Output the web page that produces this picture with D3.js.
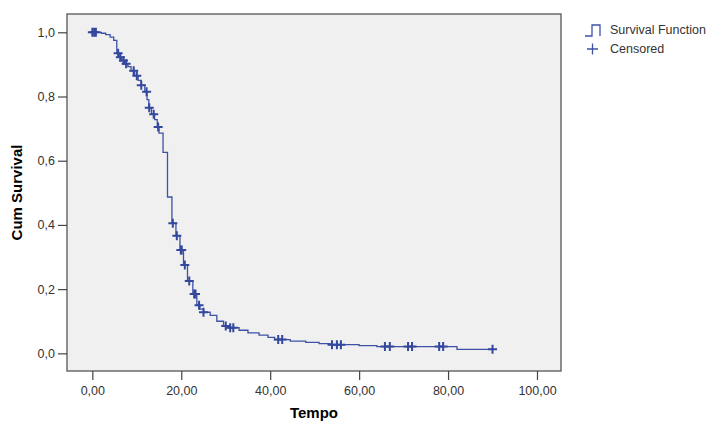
<!DOCTYPE html>
<html>
<head>
<meta charset="utf-8">
<script src="https://cdn.jsdelivr.net/npm/d3@7"></script>
<style>
  body { margin: 0; background: #fff; overflow: hidden; }
  text { font-family: "Liberation Sans", Arial, sans-serif; }
</style>
</head>
<body>
<div id="chart-area"></div>
<script>
// event times and survival after each step
var eventTimes = [2.0, 3.0, 4.0, 4.8, 5.5, 6.0, 6.6, 7.2, 8.0, 8.7, 9.5, 10.3, 11.0, 11.8, 12.3, 12.7,
  13.3, 14.0, 14.6, 15.0, 15.9, 16.9, 17.9, 18.8, 19.7, 20.5, 21.4, 22.6, 23.5, 24.2, 25.0,
  26.5, 28.0, 29.5, 30.5, 33.0, 35.0, 37.5, 39.5, 41.0, 44.5, 48.0, 51.0, 53.5, 60.0, 64.0, 82.0];
var survival = [0.997, 0.993, 0.985, 0.975, 0.935, 0.922, 0.912, 0.902, 0.893, 0.880, 0.865, 0.850, 0.835, 0.815, 0.790, 0.765,
  0.745, 0.728, 0.705, 0.686, 0.626, 0.487, 0.405, 0.366, 0.322, 0.275, 0.225, 0.185, 0.150, 0.138, 0.128,
  0.118, 0.100, 0.085, 0.080, 0.072, 0.064, 0.057, 0.050, 0.043, 0.038, 0.034, 0.030, 0.027, 0.024, 0.021, 0.0125];
var censoredTimes = [0.0, 0.4, 0.8, 5.8, 6.3, 7.0, 7.6, 9.3, 10.0, 11.0, 12.2, 12.8, 13.8, 14.8,
  18.1, 19.0, 19.9, 20.1, 20.8, 21.8, 22.9, 23.2, 24.0, 25.0,
  30.0, 31.0, 31.7, 41.8, 42.7, 53.9, 55.0, 55.9, 65.8, 66.9, 71.0, 71.9, 78.0, 78.9, 90.0];
var xTicks = [0, 20, 40, 60, 80, 100];
var yTicks = [0, 0.2, 0.4, 0.6, 0.8, 1.0];

var locale = d3.formatLocale({ decimal: ",", thousands: ".", grouping: [3], currency: ["", ""] });

var svg = d3.select("#chart-area")
  .append("svg")
  .attr("width", 713)
  .attr("height", 423);

var plot = { left: 67, top: 14, right: 561, bottom: 371 };

var x = d3.scaleLinear()
  .domain([-5.7, 105.4])
  .range([plot.left, plot.right]);

var y = d3.scaleLinear()
  .domain([-0.055, 1.057])
  .range([plot.bottom, plot.top]);

svg.append("rect")
  .attr("x", plot.left)
  .attr("y", plot.top)
  .attr("width", plot.right - plot.left)
  .attr("height", plot.bottom - plot.top)
  .attr("fill", "#f0f0f0")
  .attr("stroke", "#555")
  .attr("stroke-width", 1.3);

var xAxis = svg.append("g")
  .attr("transform", "translate(0," + plot.bottom + ")")
  .call(d3.axisBottom(x).tickValues(xTicks).tickSize(9).tickPadding(6)
    .tickFormat(locale.format(".2f")));
var yAxis = svg.append("g")
  .attr("transform", "translate(" + plot.left + ",0)")
  .call(d3.axisLeft(y).tickValues(yTicks).tickSize(9).tickPadding(3)
    .tickFormat(locale.format(".1f")));

[xAxis, yAxis].forEach(function(a) {
  a.select(".domain").remove();
  a.selectAll(".tick line").attr("stroke", "#444").attr("stroke-width", 1.2);
  a.selectAll(".tick text").attr("fill", "#333").style("font-size", "12.5px");
});

// step curve
var points = [[0, 1]];
eventTimes.forEach(function(t, i) { points.push([t, survival[i]]); });
points.push([d3.max(censoredTimes), survival[survival.length - 1]]);

function survAt(t) {
  var s = 1;
  eventTimes.forEach(function(e, i) { if (e <= t) s = survival[i]; });
  return s;
}

var line = d3.line()
  .x(function(d) { return x(d[0]); })
  .y(function(d) { return y(d[1]); })
  .curve(d3.curveStepAfter);

svg.append("path")
  .datum(points)
  .attr("fill", "none")
  .attr("stroke", "#3d52a6")
  .attr("stroke-width", 1.3)
  .attr("d", line);

svg.selectAll(".cens")
  .data(censoredTimes)
  .enter()
  .append("path")
  .attr("class", "cens")
  .attr("transform", function(d) { return "translate(" + x(d) + "," + y(survAt(d)) + ")"; })
  .attr("d", "M-4.5,0H4.5M0,-4.5V4.5")
  .attr("stroke", "#33479c")
  .attr("stroke-width", 2);

// axis titles
svg.append("text")
  .attr("x", (plot.left + plot.right) / 2)
  .attr("y", 418)
  .attr("text-anchor", "middle")
  .style("font-size", "15px")
  .style("font-weight", "bold")
  .text("Tempo");

svg.append("text")
  .attr("transform", "translate(22," + (plot.top + plot.bottom) / 2 + ") rotate(-90)")
  .attr("text-anchor", "middle")
  .style("font-size", "15px")
  .style("font-weight", "bold")
  .text("Cum Survival");

// legend
svg.append("path")
  .attr("d", "M585,36H592V25H600V36")
  .attr("fill", "none")
  .attr("stroke", "#3d52a6")
  .attr("stroke-width", 1.3);
svg.append("text")
  .attr("x", 610).attr("y", 34)
  .style("font-size", "12.5px").attr("fill", "#333")
  .text("Survival Function");
svg.append("path")
  .attr("d", "M587,49H598M592.5,43.5V54.5")
  .attr("stroke", "#3d52a6")
  .attr("stroke-width", 1.3);
svg.append("text")
  .attr("x", 610).attr("y", 53)
  .style("font-size", "12.5px").attr("fill", "#333")
  .text("Censored");
</script>
</body>
</html>
